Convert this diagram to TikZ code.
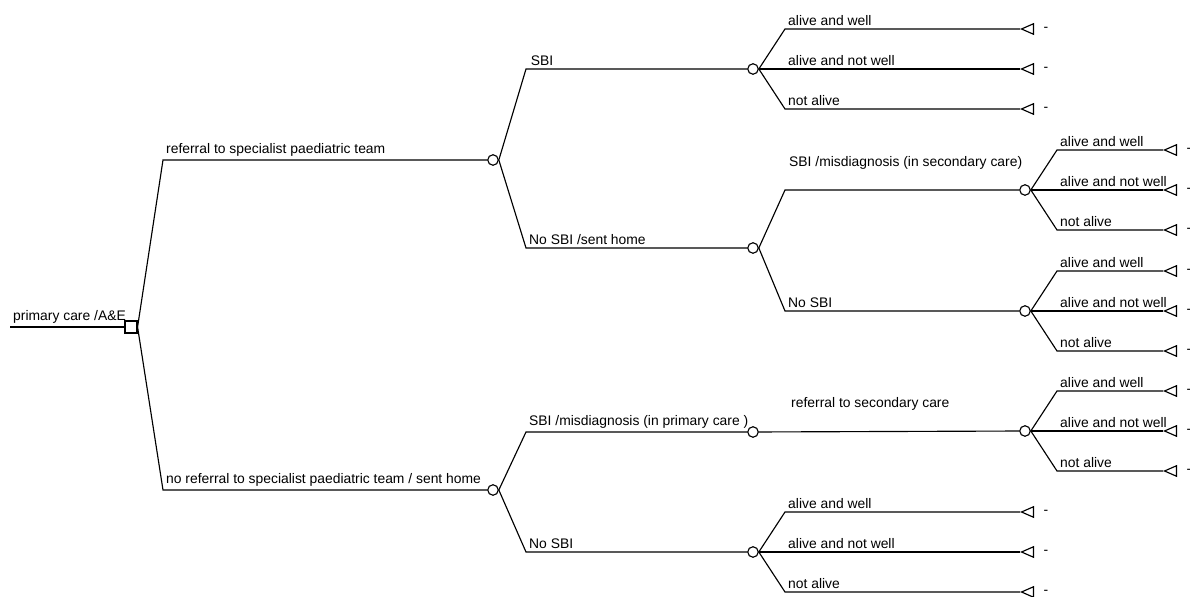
\documentclass[tikz,border=0pt]{standalone}
\usepackage{fontspec}
\setmainfont{Liberation Sans}
\usetikzlibrary{shapes.geometric}

\begin{document}
\begin{tikzpicture}[x=0.02cm, y=-0.02cm, line width=0.65pt,
  chance/.style={circle, draw, minimum size=0.21cm, inner sep=0pt},
  decision/.style={rectangle, draw, minimum size=0.24cm, inner sep=0pt},
  terminal/.style={isosceles triangle, shape border rotate=180, isosceles triangle stretches, draw, inner sep=0pt, minimum width=0.21cm, minimum height=0.24cm, anchor=apex},
  lbl/.style={anchor=south west, inner sep=1.5pt, font=\fontsize{7.9}{9.5}\selectfont},
  payoff/.style={font=\fontsize{7.9}{9.5}\selectfont, inner sep=0pt}]
  \useasboundingbox (0,0) rectangle (1190,597);
  \coordinate (start) at (10,327);
  \node [decision] (d0) at (131,327) {};
  \coordinate (k1) at (163,160);
  \coordinate (k2) at (163,490);
  \node [chance] (c1) at (493,160) {};
  \node [chance] (c2) at (493,490) {};
  \coordinate (k1a) at (526,69);
  \coordinate (k1b) at (526,248);
  \coordinate (k2a) at (526,432);
  \coordinate (k2b) at (526,552);
  \node [chance] (c1a) at (753,69) {};
  \node [chance] (c1b) at (753,248) {};
  \node [chance] (c2a) at (753,432) {};
  \node [chance] (c2b) at (753,552) {};
  \coordinate (k1b1) at (785,190);
  \coordinate (k1b2) at (785,311);
  \node [chance] (c1b1) at (1025,190) {};
  \node [chance] (c1b2) at (1025,311) {};
  \node [chance] (c2a1) at (1025,431) {};
  \draw [line width=1.3pt] (start) -- (d0);
  \draw (d0.east) -- (k1) -- (c1);
  \draw (d0.east) -- (k2) -- (c2);
  \draw (c1.east) -- (k1a) -- (c1a);
  \draw (c1.east) -- (k1b) -- (c1b);
  \draw (c2.east) -- (k2a) -- (c2a);
  \draw (c2.east) -- (k2b) -- (c2b);
  \draw (c1b.east) -- (k1b1) -- (c1b1);
  \draw (c1b.east) -- (k1b2) -- (c1b2);
  \draw (c2a) -- (c2a1);
  \node [lbl] at (start) {primary care /A\&E};
  \node [lbl] at (k1) {referral to specialist paediatric team};
  \node [lbl] at (k2) {no referral to specialist paediatric team / sent home};
  \node [lbl, xshift=1pt] at (k1a) {SBI};
  \node [lbl] at (k1b) {No SBI /sent home};
  \node [lbl] at (k2a) {SBI /misdiagnosis (in primary care )};
  \node [lbl] at (k2b) {No SBI};
  \node [lbl] at (786,173) {SBI /misdiagnosis (in secondary care)};
  \node [lbl] at (k1b2) {No SBI};
  \node [lbl] at (788,414) {referral to secondary care};
  \foreach \c/\x/\y/\e in {c1a/785/69/1020, c1b1/1057/190/1163, c1b2/1057/311/1163, c2a1/1057/431/1163, c2b/785/552/1020} {
    \coordinate (\c-k1) at (\x,\y-40);
    \coordinate (\c-k3) at (\x,\y+40);
    \node [terminal] (\c-t1) at (\e,\y-40) {};
    \node [terminal] (\c-t2) at (\e,\y) {};
    \node [terminal] (\c-t3) at (\e,\y+40) {};
    \draw (\c.east) -- (\c-k1) -- (\c-t1.apex);
    \draw (\c.east) -- (\c-t2.apex);
    \draw (\c.east) -- (\c-k3) -- (\c-t3.apex);
    \node [lbl] at (\c-k1) {alive and well};
    \node [lbl] at (\x,\y) {alive and not well};
    \node [lbl] at (\c-k3) {not alive};
    \node [payoff] at (\e+26,\y-40) {-};
    \node [payoff] at (\e+26,\y) {-};
    \node [payoff] at (\e+26,\y+40) {-};
  }
\end{tikzpicture}
\end{document}
